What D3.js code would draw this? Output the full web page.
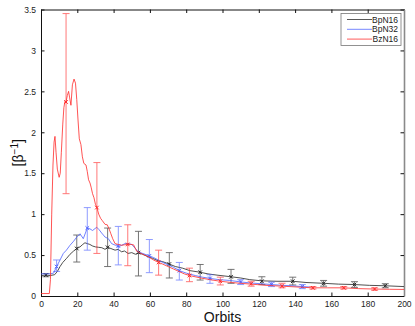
<!DOCTYPE html>
<html>
<head>
<meta charset="utf-8">
<script src="https://cdn.jsdelivr.net/npm/d3@7"></script>
<style>
  body { margin: 0; background: #fff; }
  text { font-family: "Liberation Sans", Arial, Helvetica, sans-serif; }
</style>
</head>
<body>
<div id="chart"></div>
<script>
//DATA
const xTicks = [0, 20, 40, 60, 80, 100, 120, 140, 160, 180, 200];
const yTicks = [0, 0.5, 1, 1.5, 2, 2.5, 3, 3.5];
const seriesNames = ['BpN16', 'BpN32', 'BzN16'];
const seriesColors = ['#262626', '#4f63ff', '#ff2b2b'];

// BpN16 (black)
const bp16X = [0, 2.7, 5, 7.5, 9, 10.5, 12, 14.1, 16, 18, 19.7, 21.5, 23, 24.2, 25.5, 26.9, 28.5, 30, 31.6, 33.5, 35.3, 36.7, 38.5, 40.8, 42.5, 44.4, 46, 48, 50, 52, 53.7, 56, 59, 61.5, 64.6, 67, 70.7, 74, 78, 82, 87.7, 92, 97, 104.7, 110, 115, 121.7, 130, 138.7, 146, 155.7, 164, 172.7, 181, 189.7, 200];
const bp16Y = [0.25, 0.255, 0.25, 0.26, 0.3, 0.36, 0.41, 0.46, 0.51, 0.55, 0.58, 0.6, 0.63, 0.65, 0.64, 0.63, 0.61, 0.6, 0.595, 0.59, 0.57, 0.595, 0.58, 0.56, 0.57, 0.54, 0.55, 0.52, 0.53, 0.51, 0.53, 0.51, 0.48, 0.46, 0.43, 0.42, 0.39, 0.36, 0.34, 0.31, 0.29, 0.27, 0.255, 0.235, 0.22, 0.2, 0.185, 0.18, 0.18, 0.165, 0.155, 0.145, 0.14, 0.13, 0.125, 0.115];
const bp16ErrX = [2.7, 19.7, 36.7, 53.7, 70.7, 87.7, 104.7, 121.7, 138.7, 155.7, 172.7, 189.7];
const bp16ErrMid = [0.255, 0.58, 0.595, 0.53, 0.39, 0.29, 0.235, 0.18, 0.18, 0.155, 0.14, 0.125];
const bp16ErrLo = [0.235, 0.415, 0.36, 0.245, 0.22, 0.195, 0.155, 0.14, 0.135, 0.12, 0.105, 0.1];
const bp16ErrHi = [0.275, 0.745, 0.83, 0.79, 0.53, 0.385, 0.325, 0.235, 0.23, 0.19, 0.175, 0.15];

// BpN32 (blue)
const bp32X = [0, 5, 7, 8.6, 10.5, 12.3, 14, 16, 18, 19.7, 21.5, 23.3, 25.5, 27, 28.4, 30.7, 32, 33.4, 35.3, 37.1, 38.9, 41, 42.6, 44.5, 46.3, 48, 50, 52, 53.6, 56, 59.7, 62, 64.6, 67, 70.1, 73, 76.2, 80, 85, 89, 93.1, 98, 104, 110, 115, 121, 127, 133, 138, 144, 148];
const bp32Y = [0.27, 0.27, 0.28, 0.36, 0.44, 0.52, 0.56, 0.62, 0.67, 0.72, 0.76, 0.7, 0.83, 0.82, 0.8, 0.84, 0.81, 0.77, 0.72, 0.7, 0.64, 0.62, 0.6, 0.62, 0.64, 0.64, 0.63, 0.58, 0.54, 0.52, 0.49, 0.47, 0.44, 0.41, 0.38, 0.35, 0.31, 0.28, 0.25, 0.23, 0.215, 0.2, 0.19, 0.172, 0.16, 0.15, 0.14, 0.13, 0.125, 0.115, 0.11];
const bp32ErrX = [8.6, 25.5, 42.6, 59.7, 76.2, 93.1, 110, 127, 144];
const bp32ErrMid = [0.36, 0.83, 0.61, 0.49, 0.31, 0.215, 0.172, 0.142, 0.115];
const bp32ErrLo = [0.3, 0.56, 0.38, 0.285, 0.195, 0.155, 0.14, 0.115, 0.09];
const bp32ErrHi = [0.44, 1.08, 0.85, 0.69, 0.41, 0.26, 0.2, 0.17, 0.14];

// BzN16 (red)
const bz16X = [0, 4.6, 5.2, 5.9, 6.6, 7.2, 7.7, 8.3, 9, 10, 10.6, 11.2, 12, 12.6, 13.2, 13.8, 14.5, 15.2, 15.8, 16.5, 17.3, 18.2, 19, 19.7, 20.4, 21.1, 22, 22.8, 23.6, 24.8, 25.5, 26.2, 27, 27.6, 28.4, 29.2, 30, 30.8, 31.8, 32.8, 33.8, 35.3, 36.5, 37.5, 38.5, 39.5, 40.8, 42.5, 44.4, 46, 47.8, 49.5, 51, 52.7, 55, 57, 59.1, 62, 64.8, 67, 70, 73, 76, 79, 81.8, 88, 93, 98.8, 105, 110, 115.8, 124, 132.8, 141, 149.8, 158, 166.8, 175, 183.8, 192, 200];
const bz16Y = [0.03, 0.03, 0.2, 1.0, 1.6, 1.88, 1.95, 1.75, 1.55, 1.45, 1.5, 1.75, 2.1, 2.3, 2.38, 2.37, 2.45, 2.5, 2.42, 2.33, 2.58, 2.65, 2.6, 2.4, 2.15, 1.92, 1.85, 1.7, 1.62, 1.6, 1.52, 1.42, 1.38, 1.33, 1.25, 1.2, 1.12, 1.08, 1.0, 0.95, 0.92, 0.875, 0.87, 0.82, 0.76, 0.7, 0.64, 0.63, 0.62, 0.625, 0.63, 0.63, 0.625, 0.55, 0.52, 0.5, 0.48, 0.44, 0.41, 0.39, 0.36, 0.33, 0.3, 0.27, 0.25, 0.22, 0.2, 0.18, 0.165, 0.155, 0.145, 0.13, 0.12, 0.11, 0.1, 0.1, 0.1, 0.09, 0.085, 0.082, 0.08];
const bz16ErrX = [13.8, 30.8, 47.8, 64.8, 81.8, 98.8, 115.8, 132.8, 149.8, 166.8, 183.8];
const bz16ErrMid = [2.37, 1.08, 0.63, 0.41, 0.25, 0.18, 0.15, 0.12, 0.1, 0.1, 0.085];
const bz16ErrLo = [1.25, 0.52, 0.37, 0.255, 0.175, 0.135, 0.12, 0.1, 0.085, 0.085, 0.07];
const bz16ErrHi = [3.45, 1.63, 0.87, 0.56, 0.34, 0.23, 0.18, 0.155, 0.115, 0.115, 0.1];

//SETUP
const W = 415, H = 326;
const margin = { top: 9.5, right: 11, bottom: 30, left: 41 };
const x = d3.scaleLinear().domain([0, 200]).range([margin.left, W - margin.right]);
const y = d3.scaleLinear().domain([0, 3.5]).range([H - margin.bottom, margin.top]);

const svg = d3.select('#chart').append('svg').attr('width', W).attr('height', H);

//AXES
const fmt = d3.format('');
function styleAxis(g) {
    g.selectAll('.domain').attr('stroke', '#111').attr('stroke-width', 1);
    g.selectAll('.tick line').attr('stroke', '#111');
    g.selectAll('.tick text').attr('font-size', 8.5).attr('fill', '#222')
        .style('font-family', '"Liberation Sans", Arial, sans-serif');
}
svg.append('g').attr('transform', `translate(0,${y(0)})`)
    .call(d3.axisBottom(x).tickValues(xTicks).tickFormat(fmt).tickSizeInner(-3.5).tickSizeOuter(0).tickPadding(5))
    .call(styleAxis);
svg.append('g').attr('transform', `translate(0,${y(3.5)})`)
    .call(d3.axisTop(x).tickValues(xTicks).tickFormat('').tickSizeInner(-3.5).tickSizeOuter(0))
    .call(styleAxis);
svg.append('g').attr('transform', `translate(${x(0)},0)`)
    .call(d3.axisLeft(y).tickValues(yTicks).tickFormat(fmt).tickSizeInner(-3.5).tickSizeOuter(0).tickPadding(5))
    .call(styleAxis);
const right = svg.append('g').attr('transform', `translate(${x(200)},0)`)
    .call(d3.axisRight(y).tickValues(yTicks).tickFormat('').tickSizeInner(-3.5).tickSizeOuter(0))
    .call(styleAxis);
right.select('.domain').attr('stroke', '#8a8a8a').attr('stroke-width', 1.6);

//SERIES
const series = [
    { xs: bp16X, ys: bp16Y, ex: bp16ErrX, em: bp16ErrMid, el: bp16ErrLo, eh: bp16ErrHi },
    { xs: bp32X, ys: bp32Y, ex: bp32ErrX, em: bp32ErrMid, el: bp32ErrLo, eh: bp32ErrHi },
    { xs: bz16X, ys: bz16Y, ex: bz16ErrX, em: bz16ErrMid, el: bz16ErrLo, eh: bz16ErrHi }
];
const line = d3.line().x(d => x(d[0])).y(d => y(d[1]));
const plot = svg.append('g');

series.forEach((s, i) => {
    const color = seriesColors[i];
    const pts = s.xs.map((v, k) => [v, s.ys[k]]);
    plot.append('path').datum(pts)
        .attr('d', line).attr('fill', 'none')
        .attr('stroke', color).attr('stroke-width', 0.9).attr('opacity', 0.9);

    const eb = plot.append('g').attr('stroke', color).attr('stroke-width', 0.9).attr('opacity', 0.7);
    s.ex.forEach((ex, k) => {
        const cx = x(ex), lo = y(s.el[k]), hi = y(s.eh[k]), cy = y(s.em[k]);
        eb.append('line').attr('x1', cx).attr('x2', cx).attr('y1', lo).attr('y2', hi);
        eb.append('line').attr('x1', cx - 3.5).attr('x2', cx + 3.5).attr('y1', lo).attr('y2', lo);
        eb.append('line').attr('x1', cx - 3.5).attr('x2', cx + 3.5).attr('y1', hi).attr('y2', hi);
        const m = 1.8;
        plot.append('path')
            .attr('d', `M${cx - m},${cy - m}L${cx + m},${cy + m}M${cx - m},${cy + m}L${cx + m},${cy - m}`)
            .attr('stroke', color).attr('stroke-width', 1);
    });
});

//LABELS
svg.append('text').attr('x', (x(0) + x(200)) / 2).attr('y', 322)
    .attr('text-anchor', 'middle').attr('font-size', 14).attr('fill', '#111').text('Orbits');

const yl = svg.append('text')
    .attr('transform', `translate(23,${(y(0) + y(3.5)) / 2}) rotate(-90)`)
    .attr('text-anchor', 'middle').attr('font-size', 14).attr('fill', '#111');
yl.append('tspan').text('[β');
yl.append('tspan').attr('font-size', 10).attr('dy', -5.5).text('−1');
yl.append('tspan').attr('dy', 5.5).text(']');

//LEGEND
const leg = svg.append('g').attr('transform', 'translate(341,13.5)');
leg.append('rect').attr('width', 60).attr('height', 32)
    .attr('fill', '#fff').attr('stroke', '#777').attr('stroke-width', 0.8);
seriesNames.forEach((name, i) => {
    const ly = 6 + i * 9.8;
    leg.append('line').attr('x1', 6).attr('x2', 31).attr('y1', ly).attr('y2', ly)
        .attr('stroke', seriesColors[i]).attr('stroke-width', 0.9).attr('opacity', 0.85);
    leg.append('text').attr('x', 57).attr('y', ly + 3).attr('text-anchor', 'end')
        .attr('font-size', 8.5).attr('fill', '#222').text(name);
});
</script>
</body>
</html>
